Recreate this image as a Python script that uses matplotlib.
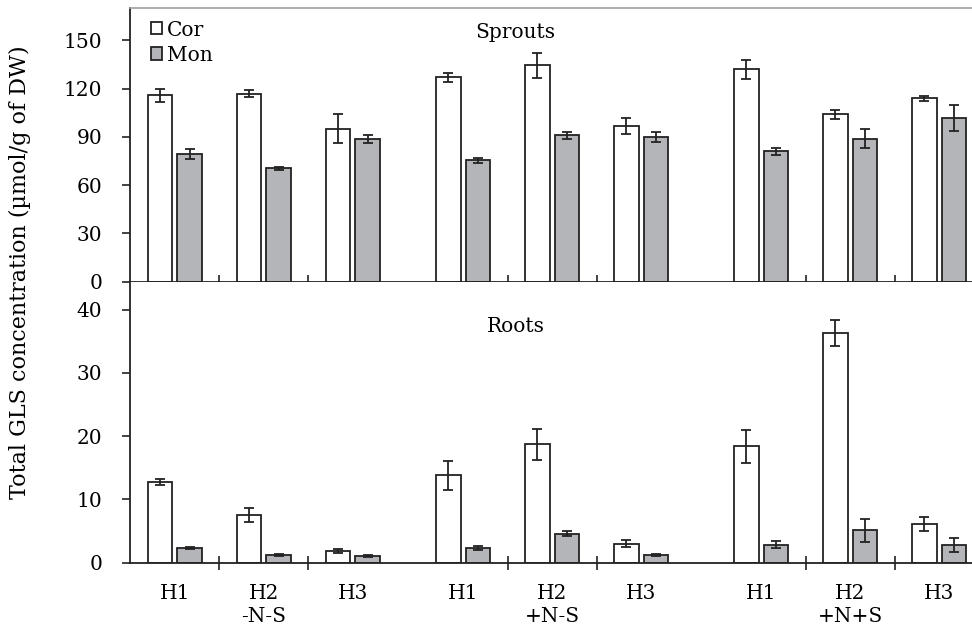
import numpy as np
import matplotlib
matplotlib.use("Agg")
import matplotlib.pyplot as plt

# ============================================================
# Datos
# ============================================================

grupos = ['-N-S', '+N-S', '+N+S']
hibridos = ['H1', 'H2', 'H3']

# Brotes (Sprouts)
sprouts_cor = [116, 117, 95, 127, 134.5, 97, 132, 104, 114]
sprouts_cor_err = [4, 2, 9, 3, 8, 5, 6, 3, 1.5]
sprouts_mon = [79.5, 70.5, 89, 75.5, 91, 90, 81, 89, 102]
sprouts_mon_err = [3.3, 1, 2.5, 1.5, 2, 3.3, 2, 6, 8]

# Raíces (Roots)
roots_cor = [12.8, 7.6, 1.8, 13.8, 18.7, 3.0, 18.4, 36.3, 6.1]
roots_cor_err = [0.5, 1.1, 0.3, 2.3, 2.5, 0.55, 2.6, 2.0, 1.05]
roots_mon = [2.3, 1.25, 1.0, 2.3, 4.6, 1.25, 2.8, 5.1, 2.8]
roots_mon_err = [0.15, 0.15, 0.15, 0.35, 0.35, 0.15, 0.55, 1.8, 1.05]

# ============================================================
# Layout
# ============================================================

GROUP_START = [0, 3.24, 6.59]
BAR_W = 0.275
OFFSET = 0.166
EDGE = '#222222'
GRAY = '#b4b5b8'
FS = 14.5

plt.rcParams['font.family'] = ['DejaVu Serif']

x = np.array([g + i for g in GROUP_START for i in range(len(hibridos))])
between = np.array([g + i + 0.5 for g in GROUP_START for i in range(len(hibridos) - 1)])

W, H = 972, 629
fig = plt.figure(figsize=(W / 100, H / 100), dpi=100)
left = 130 / W
width = 842 / W
ax_top = fig.add_axes([left, 1 - 281.7 / H, width, (281.7 - 8.3) / H])
ax_bot = fig.add_axes([left, 1 - 562.7 / H, width, (562.7 - 281.7) / H])


def draw_panel(ax, cor, cor_err, mon, mon_err):
	b1 = ax.bar(x - OFFSET, cor, width=BAR_W, color='white', edgecolor=EDGE,
	            linewidth=1.3, label='Cor', zorder=2)
	b2 = ax.bar(x + OFFSET, mon, width=BAR_W, color=GRAY, edgecolor=EDGE,
	            linewidth=1.3, label='Mon', zorder=2)
	ax.errorbar(x - OFFSET, cor, yerr=cor_err, fmt='none', ecolor=EDGE,
	            elinewidth=1.3, capsize=3.5, capthick=1.3, zorder=3)
	ax.errorbar(x + OFFSET, mon, yerr=mon_err, fmt='none', ecolor=EDGE,
	            elinewidth=1.3, capsize=3.5, capthick=1.3, zorder=3)
	ax.set_xlim(-0.503, 8.958)
	ax.spines['right'].set_visible(False)
	for s in ['left', 'bottom']:
		ax.spines[s].set_color(EDGE)
		ax.spines[s].set_linewidth(1.3)
	ax.tick_params(axis='y', direction='out', length=6, width=1.2, color=EDGE,
	               labelsize=FS, pad=14)
	ax.set_xticks(x)
	ax.set_xticks(between, minor=True)
	ax.tick_params(axis='x', which='major', length=0)
	ax.tick_params(axis='x', which='minor', direction='inout', length=10,
	               width=1.2, color=EDGE)
	return b1, b2


# A. Brotes
b1, b2 = draw_panel(ax_top, sprouts_cor, sprouts_cor_err, sprouts_mon, sprouts_mon_err)
ax_top.set_ylim(0, 170)
ax_top.set_yticks(range(0, 151, 30))
ax_top.spines['top'].set_color('#a0a0a0')
ax_top.spines['top'].set_linewidth(1.2)
ax_top.set_xticklabels([])
ax_top.text(0.457, 0.91, 'Sprouts', transform=ax_top.transAxes, ha='center',
            va='center', fontsize=FS)
ax_top.legend(handles=[b1, b2], loc='upper left', bbox_to_anchor=(0.02, 0.97),
              frameon=False, fontsize=FS, handlelength=0.55, handleheight=0.55,
              handletextpad=0.25, labelspacing=0.3, borderpad=0.2,
              borderaxespad=0.0)

# B. Raíces
draw_panel(ax_bot, roots_cor, roots_cor_err, roots_mon, roots_mon_err)
ax_bot.set_ylim(0, 44.4)
ax_bot.set_yticks(range(0, 41, 10))
ax_bot.spines['top'].set_visible(False)
ax_bot.set_xticklabels(hibridos * len(grupos), fontsize=FS)
ax_bot.tick_params(axis='x', which='major', pad=15)
ax_bot.text(0.458, 0.84, 'Roots', transform=ax_bot.transAxes, ha='center',
            va='center', fontsize=FS)
for g, nombre in zip(GROUP_START, grupos):
	ax_bot.text(g + 1, -0.19, nombre, transform=ax_bot.get_xaxis_transform(),
	            ha='center', va='center', fontsize=FS)

fig.text(20 / W, 1 - 272 / H, 'Total GLS concentration (µmol/g of DW)',
         rotation=90, ha='center', va='center', fontsize=16)

plt.savefig('out.png', dpi=100)
